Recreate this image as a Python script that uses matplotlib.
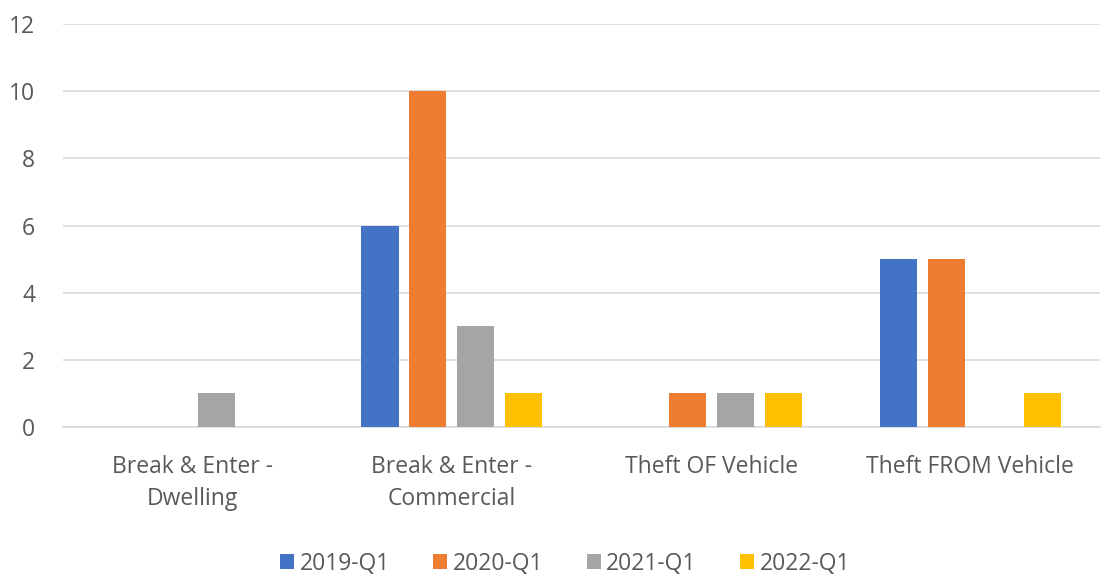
import matplotlib
matplotlib.use("Agg")
import matplotlib.pyplot as plt
import numpy as np

categories = ["Break & Enter -\nDwelling", "Break & Enter -\nCommercial", "Theft OF Vehicle", "Theft FROM Vehicle"]
series_names = ["2019-Q1", "2020-Q1", "2021-Q1", "2022-Q1"]
v2019 = [0, 6, 0, 5]
v2020 = [0, 10, 1, 5]
v2021 = [1, 3, 1, 0]
v2022 = [0, 1, 1, 1]
colors = ["#4472C4", "#ED7D31", "#A5A5A5", "#FFC000"]

plt.rcParams['font.family'] = ['Open Sans', 'DejaVu Sans']
fig = plt.figure(figsize=(11.06, 5.78), dpi=100)
ax = fig.add_axes([0.057, 0.2612, 0.9376, 0.697])

x = np.arange(len(categories))
width = 0.143
step = 0.185
for i, (vals, name, c) in enumerate(zip([v2019, v2020, v2021, v2022], series_names, colors)):
    ax.bar(x + (i - 1.5) * step, vals, width, color=c, label=name, zorder=3)

fs = 16.5
ax.set_xlim(-0.5, 3.5)
ax.set_ylim(0, 12)
ax.set_yticks(range(0, 13, 2))
ax.yaxis.grid(True, color="#D9D9D9", linewidth=1.2, zorder=0)
for s in ["top", "right", "left"]:
    ax.spines[s].set_visible(False)
ax.spines["bottom"].set_color("#D9D9D9")
ax.spines["bottom"].set_linewidth(1.2)
ax.set_xticks(x)
ax.set_xticklabels(categories, fontsize=fs, color="#595959", linespacing=1.45)
ax.tick_params(axis="x", length=0, pad=20)
ax.tick_params(axis="y", length=0, pad=20, labelsize=fs, labelcolor="#595959")

leg = fig.legend(loc="center", bbox_to_anchor=(0.511, 0.025), ncol=4, frameon=False,
                 fontsize=fs, handlelength=0.6, handleheight=0.6, handletextpad=0.25,
                 columnspacing=1.9)
for t in leg.get_texts():
    t.set_color("#595959")

fig.savefig("out.png", dpi=100)
